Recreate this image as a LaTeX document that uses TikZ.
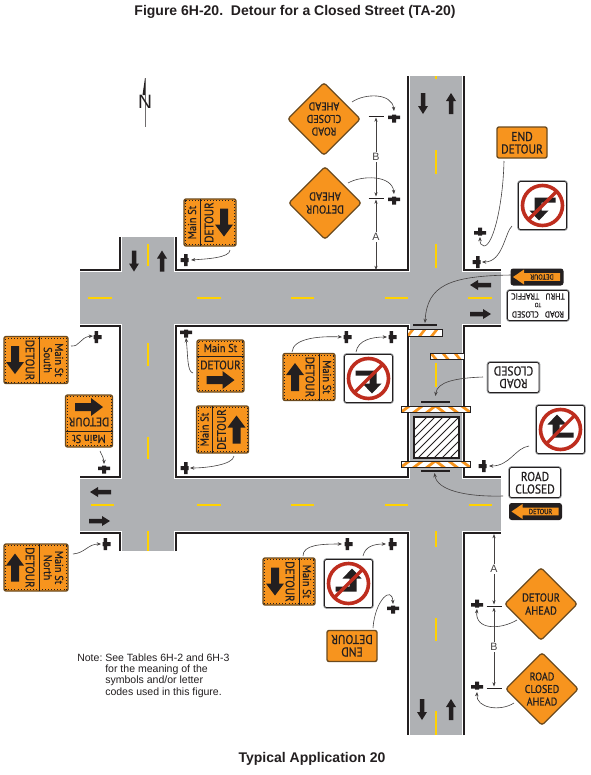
\documentclass[tikz,border=0pt]{standalone}
\usepackage{fontspec}
\usetikzlibrary{arrows.meta,calc,shapes.geometric}
\setmainfont{Liberation Sans}
\newfontfamily\sgn[FakeStretch=0.9,FakeBold=0.7]{PT Sans}
\definecolor{road}{HTML}{AFB1B4}
\definecolor{ylw}{HTML}{FFD200}
\definecolor{ink}{HTML}{231F20}
\definecolor{signor}{HTML}{F7941E}
\definecolor{signbr}{HTML}{6B4A1E}
\definecolor{nored}{HTML}{BE2D1E}
\definecolor{frame}{HTML}{A0A2A4}
\def\px{0.75pt}
\tikzset{
 x=0.75pt,y=-0.75pt,
 orsign/.style={rectangle,fill=signor,draw=signbr,line width=1pt,rounded corners=1.5pt,inner sep=0pt},
 wsign/.style={rectangle,fill=white,draw=ink,line width=0.6pt,rounded corners=1.5pt,inner sep=0pt,preaction={draw=frame,line width=1.9pt}},
 dashln/.style={draw=ylw,line width=1.45pt},
 curb/.style={draw=ink,line width=1.1pt},
 conn/.style={draw=ink!85,line width=0.45pt,-{Stealth[length=3.2pt,width=2.6pt]}},
 dimln/.style={draw=ink!85,line width=0.45pt,-{Stealth[length=3.2pt,width=2.4pt]}},
 tick/.style={draw=ink,line width=0.5pt},
 stxt/.style={inner sep=0pt,text=ink,align=center},
 dimtxt/.style={font=\fontsize{8}{9}\selectfont,text=ink!85,fill=white,inner sep=1pt},
}
% block arrow: centred, pointing +x
\newcommand\blockarrow[4]{% length, shaft, head width, head length
 \pgfmathsetmacro\ax{#1/2}\pgfmathsetmacro\as{#2/2}\pgfmathsetmacro\ah{#3/2}\pgfmathsetmacro\an{#1/2-#4}
 \fill[ink] (-\ax,-\as)--(\an,-\as)--(\an,-\ah)--(\ax,0)--(\an,\ah)--(\an,\as)--(-\ax,\as)--cycle;}
\newcommand\roadarrow[3]{\begin{scope}[shift={(#1,#2)},rotate=#3]\blockarrow{21}{4.5}{10}{8}\end{scope}}
\newcommand\postT[4]{\coordinate (#1) at (#2,#3);
 \begin{scope}[shift={(#2,#3)},rotate=#4]
 \fill[ink] (-6,-1)--(-2,-1)--(-2,-4.5)--(2,-4.5)--(2,-1)--(6,-1)--(6,2.5)--(2,2.5)--(2,3.5)--(-2,3.5)--(-2,2.5)--(-6,2.5)--cycle;
 \end{scope}}
% name,cx,cy,w,h,rot,arrow deg,top section,text
\newcommand\mainsign[9]{%
 \pgfmathsetmacro\hw{#4/2}\pgfmathsetmacro\hh{#5/2}
 \pgfmathsetmacro\dv{-#5/2+#8}\pgfmathsetmacro\tt{-#5/2+#8/2}
 \pgfmathsetmacro\dt{-#5/2+#8+9}\pgfmathsetmacro\ar{-#5/2+#8+24}
 \pgfmathsetmacro\ai{\hw-1.6}\pgfmathsetmacro\bi{\hh-1.6}
 \pgfmathsetmacro\arang{#7-(#6)}
 \begin{scope}[shift={(#2,#3)},rotate=#6,transform shape]
 \node[orsign,minimum width=#4*\px,minimum height=#5*\px] (#1) at (0,0) {};
 \draw[ink,line width=0.3pt,dotted] (-\ai,-\bi) rectangle (\ai,\bi);
 \draw[ink,line width=0.55pt] (-\hw,\dv)--(\hw,\dv);
 \node[stxt,font=\sgn\fontsize{8.6}{8.4}\selectfont] at (0,\tt) {#9};
 \node[stxt,font=\sgn\fontsize{9.3}{10}\selectfont] at (0,\dt) {DETOUR};
 \begin{scope}[shift={(0,\ar)},rotate=\arang]\blockarrow{28}{8}{18}{12}\end{scope}
 \end{scope}}
% name,cx,cy,rot,style,w,h,line1,line2
\newcommand\twoline[9]{%
 \begin{scope}[shift={(#2,#3)},rotate=#4,transform shape]
 \node[#5,minimum width=#6*\px,minimum height=#7*\px] (#1) at (0,0) {};
 \node[stxt,font=\sgn\fontsize{9.6}{10}\selectfont] at (0,-6) {#8};
 \node[stxt,font=\sgn\fontsize{9.6}{10}\selectfont] at (0,6.5) {#9};
 \end{scope}}
% no-turn sign: name,cx,cy,transform of base glyph
\newcommand\noturn[4]{%
 \begin{scope}[shift={(#2,#3)}]
 \node[wsign,minimum width=48*\px,minimum height=48*\px] (#1) at (0,0) {};
 \begin{scope}[#4]
 \fill[ink] (-13,-8)--(8,-8)--(8,5)--(13,5)--(3.5,15)--(-6,5)--(1,5)--(1,-3)--(-13,-3)--cycle;
 \end{scope}
 \draw[nored,line width=2.7pt] (0,0) circle (20);
 \draw[nored,line width=2.4pt] (-14,14)--(14,-14);
 \end{scope}}
% diamond: name,cx,cy,rot,font size
\newcommand\diasign[5]{%
 \begin{scope}[shift={(#2,#3)},rotate=#4,transform shape]
 \node[diamond,shape aspect=1,fill=signor,draw=signbr,line width=1pt,rounded corners=2pt,inner sep=0pt,minimum width=73*\px,minimum height=73*\px] (#1) at (0,0) {};
 \node[stxt,font=\sgn\fontsize{#5}{9.4}\selectfont] at (0,0) {\csname dtext#1\endcsname};
 \end{scope}}
% detour panel: name,cx,cy,text rotation
\newcommand\panel[4]{%
 \begin{scope}[shift={(#2,#3)}]
 \node[rectangle,fill=ink,rounded corners=2pt,inner sep=0pt,minimum width=53*\px,minimum height=17*\px] (#1) at (0,0) {};
 \fill[signor] (-24,0)--(-13,-7.5)--(-13,-3.8)--(23,-3.8)--(23,3.8)--(-13,3.8)--(-13,7.5)--cycle;
 \node[stxt,font=\sgn\fontsize{5.4}{6}\selectfont,rotate=#4] at (5,0) {DETOUR};
 \end{scope}}
% barricades
\newcommand\barrA[5]{%
 \begin{scope}
 \clip (#2,#3) rectangle (#4,#5);
 \fill[white] (#2,#3) rectangle (#4,#5);
 \pgfmathsetmacro\cxx{(#2+#4)/2}
 \foreach \o in {0,13,26,39}{
  \draw[signor,line width=2.1pt] (\cxx-\o-10,#5+1)--(\cxx-\o+1,#3-1);
  \draw[signor,line width=2.1pt] (\cxx+\o+10,#5+1)--(\cxx+\o-1,#3-1);}
 \end{scope}
 \path (#2,#3) -- (#4,#5) node[midway,inner sep=0pt] (#1) {};
 \draw[ink,line width=0.7pt] (#2,#3) rectangle (#4,#5);}
\newcommand\barrB[6]{%
 \begin{scope}
 \clip (#2,#3) rectangle (#4,#5);
 \fill[white] (#2,#3) rectangle (#4,#5);
 \foreach \o in {-12,0,12,24,36,48}{
  \draw[signor,line width=2pt,xscale=1] (#2+\o,#5+1)--(#2+\o+#6,#3-1);}
 \end{scope}
 \path (#2,#3) -- (#4,#5) node[midway,inner sep=0pt] (#1) {};
 \draw[ink,line width=0.7pt] (#2,#3) rectangle (#4,#5);}
\expandafter\def\csname dtextdrc1\endcsname{ROAD\\CLOSED\\AHEAD}
\expandafter\def\csname dtextdrc2\endcsname{ROAD\\CLOSED\\AHEAD}
\expandafter\def\csname dtextdda1\endcsname{DETOUR\\[0.4pt]AHEAD}
\expandafter\def\csname dtextdda2\endcsname{DETOUR\\[0.4pt]AHEAD}
\begin{document}
\begin{tikzpicture}
\useasboundingbox (0,0) rectangle (590,775);
\fill[white] (0,0) rectangle (590,775);
% roads
\fill[road] (410,76) rectangle (462,735);
\fill[road] (122,237) rectangle (174,551);
\fill[road] (80,272) rectangle (501,324);
\fill[road] (80,479) rectangle (501,531);
% centre lines
\foreach \a/\b in {76/79,150/174,244/268,363/387,531/547,618/641,711/735}{\draw[dashln] (436,\a)--(436,\b);}
\foreach \a/\b in {244/266,343/366,437/459,531/551}{\draw[dashln] (148,\a)--(148,\b);}
\foreach \a/\b in {88/112,197/221,291/314,385/408,468/492}{\draw[dashln] (\a,298)--(\b,298);}
\foreach \a/\b in {91/114,197/221,291/314,385/408,469/492}{\draw[dashln] (\a,505)--(\b,505);}
% curbs
\draw[curb] (80,270)--(120,270)--(120,237);
\draw[curb] (176,237)--(176,270)--(408,270)--(408,76);
\draw[curb] (464,76)--(464,270)--(501,270);
\draw[curb] (80,326)--(120,326)--(120,477)--(80,477);
\draw[curb] (176,326)--(408,326)--(408,477)--(176,477)--cycle;
\draw[curb] (501,326)--(464,326)--(464,477)--(501,477);
\draw[curb] (80,533)--(120,533)--(120,551);
\draw[curb] (176,551)--(176,533)--(408,533)--(408,735);
\draw[curb] (464,735)--(464,533)--(501,533);
% road arrows
\roadarrow{423}{103.5}{-90}\roadarrow{451}{103.5}{90}
\roadarrow{422}{709.5}{-90}\roadarrow{451}{709.5}{90}
\roadarrow{134}{261}{-90}\roadarrow{162}{261}{90}
\roadarrow{480.5}{285}{180}\roadarrow{480.5}{314}{0}
\roadarrow{100.5}{492}{180}\roadarrow{99.5}{521}{0}
% closed section
\node[rectangle,fill=white,inner sep=0pt,minimum width=45*\px,minimum height=41*\px] (closed) at (436.5,437.5) {};
\begin{scope}
\clip (414,417) rectangle (459,458);
\foreach \hk in {-32,-24,-16,-8,0,8,16,24,32,40,48}{\draw[ink,line width=0.75pt] (414+\hk,462)--(464+\hk,412);}
\end{scope}
\draw[ink,line width=0.9pt] (414,417) rectangle (459,458);
% barricades and their lines
\coordinate (ln1) at (425,325);\coordinate (ln2) at (435.5,402);\coordinate (ln3) at (435.5,471);
\draw[ink,line width=1.2pt] ($(ln1)+(-12,0)$)--($(ln1)+(12,0)$);
\draw[ink,line width=1.2pt] ($(ln2)+(-14.5,0)$)--($(ln2)+(14.5,0)$);
\draw[ink,line width=1.2pt] ($(ln3)+(-14.5,0)$)--($(ln3)+(14.5,0)$);
\barrB{bar1}{407}{329}{442}{336}{7}
\begin{scope}
\clip (430,353) rectangle (464,359.5);
\fill[white] (430,353) rectangle (464,359.5);
\foreach \o in {-12,0,12,24,36}{\draw[signor,line width=2pt] (430+\o+7,360.5)--(430+\o,352);}
\end{scope}
\node[inner sep=0pt] (bar2) at (447,356) {};
\draw[ink,line width=0.7pt] (430,353) rectangle (464,359.5);
\barrA{bar3}{401}{406}{470}{412.5}
\barrA{bar4}{401}{461}{470}{467.5}
% signs
\diasign{drc1}{324}{119}{180}{8.4}
\diasign{dda1}{325}{203}{180}{8.7}
\diasign{dda2}{541}{604}{0}{8.7}
\diasign{drc2}{542}{689}{0}{8.4}
\twoline{ed1}{522}{142.5}{0}{orsign}{50}{31}{END}{DETOUR}
\twoline{ed2}{352}{646}{180}{orsign}{50}{31}{END}{DETOUR}
\twoline{rc1}{513.5}{377.5}{180}{wsign}{51}{30}{ROAD}{CLOSED}
\twoline{rc2}{535}{482.5}{0}{wsign}{51}{30}{ROAD}{CLOSED}
\noturn{nt1}{542.5}{205.5}{xscale=-1}
\noturn{nt2}{368.5}{378.5}{}
\noturn{nt3}{560.5}{429.5}{rotate=180}
\noturn{nt4}{348.5}{583.5}{yscale=-1}
\panel{pan1}{537}{277}{180}
\panel{pan2}{535.5}{511.5}{0}
% road closed to thru traffic
\begin{scope}[shift={(538,305.5)},rotate=180,transform shape]
\node[wsign,minimum width=61*\px,minimum height=30*\px] (rctt) at (0,0) {};
\node[stxt,font=\sgn\fontsize{6.5}{7}\selectfont] at (0,-9) {ROAD\ \ \ CLOSED};
\node[stxt,font=\sgn\fontsize{4.6}{5}\selectfont] at (0,0.5) {TO};
\node[stxt,font=\sgn\fontsize{6.5}{7}\selectfont] at (0,9) {THRU\ \ \ TRAFFIC};
\end{scope}
% route signs
\mainsign{sa}{210}{222.5}{47}{52}{90}{-90}{16}{Main St}
\mainsign{sb}{220.5}{366}{47}{52}{0}{0}{16}{Main St}
\mainsign{sc}{222.5}{429.5}{47}{52}{90}{90}{16}{Main St}
\mainsign{sd}{89}{421}{47}{52}{180}{0}{16}{Main St}
\mainsign{se}{36}{360}{47}{64}{-90}{-90}{29}{Main St\\South}
\mainsign{sf}{36}{567.5}{47}{64}{-90}{90}{29}{Main St\\North}
\mainsign{sg}{309}{377}{47}{52}{-90}{90}{16}{Main St}
\mainsign{sh}{289}{581.5}{47}{52}{-90}{-90}{16}{Main St}
% posts
\postT{p1}{394}{118}{180}\postT{p2}{394}{200}{180}
\postT{p3}{480}{232}{0}\postT{p4}{477}{262}{90}
\postT{p5}{185}{260}{90}\postT{p6}{97}{337}{-90}
\postT{p7}{186}{333}{180}\postT{p8}{104}{469}{180}
\postT{p9}{185}{468}{90}\postT{p10}{347}{337}{-90}
\postT{p11}{392}{337}{-90}\postT{p12}{483}{466}{90}
\postT{p13}{106}{544}{-90}\postT{p14}{348}{544}{-90}
\postT{p15}{392}{544}{-90}\postT{p16}{393}{609}{180}
\postT{p17}{477}{604}{0}\postT{p18}{477}{686}{0}
% connectors
\draw[conn] ($(drc1)+(28,-17)$) .. controls (365,93) and (392,93) .. ($(p1)+(0,-7)$);
\draw[conn] ($(dda1)+(23,-20)$) .. controls (362,175) and (392,175) .. ($(p2)+(0,-6)$);
\draw[conn] ($(ed1)+(-18,18.5)$) .. controls (503,205) and (493,246) .. (484,246) .. controls (481,246) and (480,243) .. ($(p3)+(0,5)$);
\draw[conn] ($(nt1)+(-30.5,20.5)$) .. controls (505,232) and (503,262) .. ($(p4)+(5,0)$);
\draw[conn] ($(pan1)+(-26,-2)$) .. controls (450,276) and (427,285) .. ($(ln1)+(0,-2)$);
\draw[conn] ($(sa)+(20,27.5)$) .. controls (230,258) and (205,259) .. ($(p5)+(6,0)$);
\draw[conn] ($(se)+(35,-14)$) .. controls (80,347) and (80,337) .. ($(p6)+(-4,-1)$);
\draw[conn] ($(sb)+(-27.5,7)$) .. controls (187,372) and (188,355) .. ($(p7)+(0,5)$);
\draw[conn] ($(sc)+(11.5,26.5)$) .. controls (233,465) and (205,468) .. ($(p9)+(5,0)$);
\draw[conn] ($(sd)+(11,30)$) .. controls (102,456) and (104,458) .. ($(p8)+(0,-5)$);
\draw[conn] ($(sg)+(-17,-25)$) .. controls (293,338) and (320,336) .. ($(p10)+(-5,0)$);
\draw[conn] ($(nt2)+(-12.5,-26.5)$) .. controls (358,340) and (372,337) .. ($(p11)+(-5,0)$);
\draw[conn] ($(rc1)+(-30.5,-0.5)$) .. controls (455,378) and (437,382) .. ($(ln2)+(0,-6)$);
\draw[conn] ($(nt3)+(-31.5,16.5)$) .. controls (515,448) and (510,466) .. ($(p12)+(6,0)$);
\draw[conn] ($(rc2)+(-32,13.5)$) .. controls (465,497) and (437,490) .. ($(ln3)+(-1,2)$);
\draw[conn] ($(sf)+(37,-13.5)$) .. controls (85,553) and (88,544) .. ($(p13)+(-5,0)$);
\draw[conn] ($(sh)+(14,-25.5)$) .. controls (303,545) and (320,544) .. ($(p14)+(-6,0)$);
\draw[conn] ($(nt4)+(14.5,-27.5)$) .. controls (365,547) and (373,544) .. ($(p15)+(-6,0)$);
\draw[conn] ($(ed2)+(21,-18)$) .. controls (375,600) and (392,585) .. ($(p16)+(0,-5)$);
\draw[conn] ($(dda2)+(-24,16)$) .. controls (500,630) and (475,630) .. ($(p17)+(0,5)$);
\draw[conn] ($(drc2)+(-28,14)$) .. controls (500,712) and (476,708) .. ($(p18)+(0,6)$);
% dimensions
\coordinate (t1) at (376,116);\coordinate (t2) at (376,198);\coordinate (t3) at (376,270);
\coordinate (t4) at (494,534);\coordinate (t5) at (494,606);\coordinate (t6) at (494,688);
\draw[tick] ($(t1)+(-7.5,0)$)--($(t1)+(7.5,0)$);
\draw[tick] ($(t2)+(-7.5,0)$)--($(t2)+(7.5,0)$);
\draw[tick] ($(t5)+(-7.5,0)$)--($(t5)+(7.5,0)$);
\draw[tick] ($(t6)+(-7.5,0)$)--($(t6)+(7.5,0)$);
\node[dimtxt] (dimb1) at (376,157) {B};
\node[dimtxt] (dima1) at (376,237) {A};
\node[dimtxt] (dima2) at (494,569) {A};
\node[dimtxt] (dimb2) at (494,647) {B};
\draw[dimln] (dimb1)--($(t1)+(0,1.5)$);\draw[dimln] (dimb1)--($(t2)+(0,-1.5)$);
\draw[dimln] (dima1)--($(t2)+(0,1.5)$);\draw[dimln] (dima1)--(t3);
\draw[dimln] (dima2)--(t4);\draw[dimln] (dima2)--($(t5)+(0,-1.5)$);
\draw[dimln] (dimb2)--($(t5)+(0,1.5)$);\draw[dimln] (dimb2)--($(t6)+(0,-1.5)$);
% north arrow
\coordinate (nt) at (145,78);
\draw[ink!65,line width=0.7pt] (nt)--(145,127);
\fill[ink] (nt)--(142.5,95)--(145,95)--cycle;
\node[inner sep=0pt,text=ink,font=\fontsize{14.5}{14.5}\selectfont] (north) at (145,102) {N};
% texts
\node[inner sep=0pt,font=\bfseries\fontsize{10.5}{12}\selectfont,text=ink] (title) at (295,12) {Figure 6H-20.\ \ Detour for a Closed Street (TA-20)};
\node[inner sep=0pt,font=\bfseries\fontsize{10.5}{12}\selectfont,text=ink] (sub) at (312,759) {Typical Application 20};
\node[inner sep=0pt,anchor=west,font=\fontsize{7.9}{9}\selectfont,text=ink] (n0) at (77,658) {Note:};
\node[inner sep=0pt,anchor=west,font=\fontsize{7.9}{9}\selectfont,text=ink] (n1) at (105,658) {See Tables 6H-2 and 6H-3};
\node[inner sep=0pt,anchor=west,font=\fontsize{7.9}{9}\selectfont,text=ink] (n2) at (105,669.5) {for the meaning of the};
\node[inner sep=0pt,anchor=west,font=\fontsize{7.9}{9}\selectfont,text=ink] (n3) at (105,681) {symbols and/or letter};
\node[inner sep=0pt,anchor=west,font=\fontsize{7.9}{9}\selectfont,text=ink] (n4) at (105,693) {codes used in this figure.};
\end{tikzpicture}
\end{document}
